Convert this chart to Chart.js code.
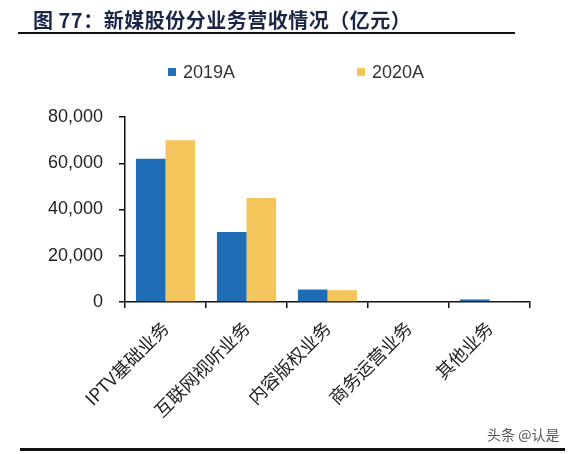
<!DOCTYPE html>
<html>
<head>
<meta charset="utf-8">
<script src="https://cdn.jsdelivr.net/npm/chart.js@4"></script>
<style>
  html, body { margin: 0; padding: 0; background: #fff; }
  #wrap { position: relative; width: 574px; height: 454px; overflow: hidden; background: #fff; }
  #title { position: absolute; left: 33px; top: 5px; font: bold 20px "Noto Sans CJK SC", sans-serif; color: #1b2548; white-space: nowrap; letter-spacing: 0.5px; }
  #tline { position: absolute; left: 18px; top: 32px; width: 497px; height: 2px; background: #111; }
  #bline { position: absolute; left: 20px; top: 448px; width: 545px; height: 3px; background: #111; }
  #wm { position: absolute; left: 487px; top: 424px; font: 14px "Noto Sans CJK SC", sans-serif; color: #555; white-space: nowrap; }
  .lg { position: absolute; top: 62px; font: 18px "Liberation Sans", Arial, sans-serif; color: #333; white-space: nowrap; }
  .lg span { display: inline-block; width: 8px; height: 8px; margin-right: 7px; vertical-align: 2px; }
  canvas { position: absolute; left: 0; top: 0; }
</style>
</head>
<body>
<div id="wrap">
  <canvas id="c" width="574" height="454"></canvas>
  <div id="title">图 77：新媒股份分业务营收情况（亿元）</div>
  <div id="tline"></div>
  <div class="lg" id="lg1" style="left:168px"><span style="background:#1f6db5"></span>2019A</div>
  <div class="lg" id="lg2" style="left:357px"><span style="background:#f4c55a"></span>2020A</div>
  <div id="wm">头条 @认是</div>
  <div id="bline"></div>
</div>
<script>
const categories = ["IPTV基础业务", "互联网视听业务", "内容版权业务", "商务运营业务", "其他业务"];
const seriesNames = ["2019A", "2020A"];
const values2019 = [62000, 30300, 5400, 0, 1100];
const values2020 = [70000, 45000, 5100, 0, 300];
const yTicks = [0, 20000, 40000, 60000, 80000];
const colors = ["#1f6db5", "#f4c55a"];

new Chart(document.getElementById("c"), {
  type: "bar",
  data: {
    labels: categories,
    datasets: [
      { label: seriesNames[0], data: values2019, backgroundColor: colors[0], borderWidth: 0 },
      { label: seriesNames[1], data: values2020, backgroundColor: colors[1], borderWidth: 0 }
    ]
  },
  options: {
    responsive: false,
    animation: false,
    devicePixelRatio: 1,
    layout: { padding: { left: 0, right: 44, top: 117, bottom: 0 } },
    plugins: { legend: { display: false }, tooltip: { enabled: false }, title: { display: false } },
    datasets: { bar: { categoryPercentage: 0.73, barPercentage: 1.0 } },
    scales: {
      x: {
        offset: true,
        grid: { offset: true, drawOnChartArea: false, drawTicks: true, tickLength: 6, color: "#111", lineWidth: 1.5 },
        border: { display: true, color: "#111", width: 1.5 },
        ticks: {
          maxRotation: 45, minRotation: 45, autoSkip: false,
          color: "#222", padding: 9,
          font: { family: "'Noto Sans CJK SC'", size: 18 }
        },
        afterFit: s => { s.height = 152; }
      },
      y: {
        min: 0, max: 80000,
        afterBuildTicks: s => { s.ticks = yTicks.map(v => ({ value: v })); },
        grid: { drawOnChartArea: false, drawTicks: true, tickLength: 6, color: "#111", lineWidth: 1.5 },
        border: { display: true, color: "#111", width: 1.5 },
        ticks: {
          color: "#222", padding: 16,
          font: { family: "'Liberation Sans', Arial, sans-serif", size: 18 },
          callback: v => v.toLocaleString("en-US")
        },
        afterFit: s => { s.width = 125; }
      }
    }
  }
});
</script>
</body>
</html>
